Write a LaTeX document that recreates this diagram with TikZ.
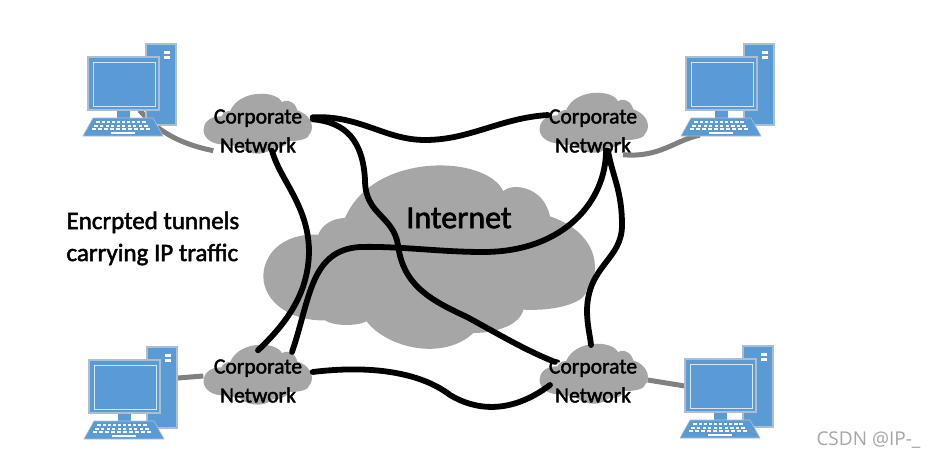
\documentclass[tikz,border=0pt]{standalone}
\usepackage{fontspec}
\setmainfont[FakeBold=2]{Carlito}
\setsansfont{Open Sans}
\definecolor{cloudgray}{RGB}{166,166,166}
\definecolor{pcblue}{RGB}{91,155,213}
\definecolor{pcedge}{RGB}{172,190,208}
\definecolor{linkgray}{RGB}{128,128,128}
\tikzset{
  tunnel/.style={line width=5.8pt, black, line cap=round},
  uplink/.style={line width=5pt, linkgray},
  corplabel/.style={minimum width=109pt, minimum height=61pt, inner sep=0pt, align=center, font=\fontsize{21.6}{29}\selectfont},
  pcbox/.style={minimum width=71pt, minimum height=53pt, inner sep=0pt},
  pics/cloudshape/.style={code={
    \fill[cloudgray] (-335,-70) .. controls (-450,-75) and (-500,-5) .. (-500,55)
      .. controls (-500,130) and (-420,190) .. (-315,187)
      .. controls (-290,205) and (-220,205) .. (-190,190)
      .. controls (-130,270) and (40,310) .. (130,225)
      .. controls (200,225) and (270,200) .. (280,155)
      .. controls (390,160) and (470,130) .. (470,95)
      .. controls (510,60) and (520,-70) .. (360,-125)
      .. controls (340,-220) and (240,-225) .. (220,-200)
      .. controls (170,-310) and (-170,-320) .. (-255,-120)
      .. controls (-290,-120) and (-325,-100) .. cycle;
  }},
  pics/computer/.style={code={
    \filldraw[fill=pcblue, draw=pcedge, line width=1.2pt] (58,-13) rectangle (88,68);
    \fill[white] (76,-6) rectangle (82,-3);
    \fill[white] (76,-1) rectangle (82,2);
    \fill[pcblue] (29,53) rectangle (42,62);
    \filldraw[fill=pcblue, draw=pcedge, line width=1.2pt] (0,0) rectangle (71,53);
    \draw[white!75!pcblue, line width=1pt] (5,5) rectangle (67,49);
    \filldraw[fill=pcblue, draw=pcedge, line width=0.6pt] (-5,79) -- (75,79) -- (65,61) -- (5,61) -- cycle;
    \foreach \row/\first/\last in {65/10/56, 68.5/8/58, 72/6/60}
      \foreach \col in {0,...,9}
        \fill[white] ({\first+\col*(\last-\first)/9-1.6},\row-1) rectangle ({\first+\col*(\last-\first)/9+1.6},\row+1);
    \fill[white] (23,75) rectangle (47,77);
  }}
}
\begin{document}
\begin{tikzpicture}[x=1pt, y=-1pt]
\useasboundingbox (0,0) rectangle (936,458);
\pic[scale=0.3333] at (430,258) {cloudshape};
\pic[scale=0.109] at (258,124) {cloudshape};
\pic[scale=0.109] at (594,123) {cloudshape};
\pic[scale=0.109] at (258,375) {cloudshape};
\pic[scale=0.109] at (594,374) {cloudshape};
\node[pcbox] (pcNW) at (123.5,83.5) {};
\node[pcbox] (pcNE) at (721.5,83.5) {};
\node[pcbox] (pcSW) at (124.5,386.5) {};
\node[pcbox] (pcSE) at (720.5,385.5) {};
\node[corplabel] (corpNW) at (258,131) {Corporate\\Network};
\node[corplabel] (corpNE) at (593,131) {Corporate\\Network};
\node[corplabel] (corpSW) at (258,381) {Corporate\\Network};
\node[corplabel] (corpSE) at (593,381) {Corporate\\Network};
\node[font=\fontsize{32}{36}\selectfont] (internet) at (459,218) {Internet};
\node[align=left, anchor=west, font=\fontsize{25}{32}\selectfont] (caption) at (63,238.5) {Encrpted tunnels\\carrying IP traffic};
\node[anchor=east, text=black!35, font=\sffamily\fontsize{19}{21}\selectfont] (mark) at (924,440) {CSDN @IP-\_};
\draw[uplink] (pcNW.south) ++(16,0) .. controls (155,128) and (175,143) .. ([shift={(10,-11)}]corpNW.south west);
\draw[uplink] (corpNE.south) ++(30,-7) .. controls (660,158) and (675,140) .. ([shift={(14,25)}]pcNE.south west);
\draw[uplink] (pcSW.east |- 0,381) ++(-20,0) -- (corpSW.west |- 0,376);
\draw[uplink] (corpSE.east |- 0,380) -- (pcSE.west |- 0,386);
\pic at (88,57) {computer};
\pic at (686,57) {computer};
\pic at (89,360) {computer};
\pic at (685,359) {computer};
\draw[tunnel] (corpNW.north east) ++(0,17) .. controls (360,115) and (385,140) .. (425,140) .. controls (470,140) and (500,118) .. (548,115);
\draw[tunnel] (corpNW.north east) ++(0,19) .. controls (345,122) and (363,140) .. (365,180) .. controls (365,215) and (393,215) .. (398,245) .. controls (403,285) and (430,300) .. (467,317) .. controls (500,335) and (525,350) .. (555,362);
\draw[tunnel] (corpNW.south) ++(14,-11) .. controls (280,180) and (308,205) .. (309,250) .. controls (309,290) and (290,320) .. (corpSW.north) ++(10,0);
\draw[tunnel] (corpNE.south) ++(13,-11) .. controls (606,200) and (565,252) .. (483,252) .. controls (440,252) and (400,246) .. (360,247) .. controls (310,250) and (310,300) .. (292,352);
\draw[tunnel] (corpNE.south) ++(15,-11) .. controls (612,175) and (622,190) .. (622,225) .. controls (622,260) and (588,265) .. (587,310) .. controls (587,325) and (590,335) .. (591,345);
\draw[tunnel] (corpSW.east) ++(0,-9) .. controls (370,365) and (420,372) .. (450,395) .. controls (475,410) and (510,415) .. (550,385);
\end{tikzpicture}
\end{document}
